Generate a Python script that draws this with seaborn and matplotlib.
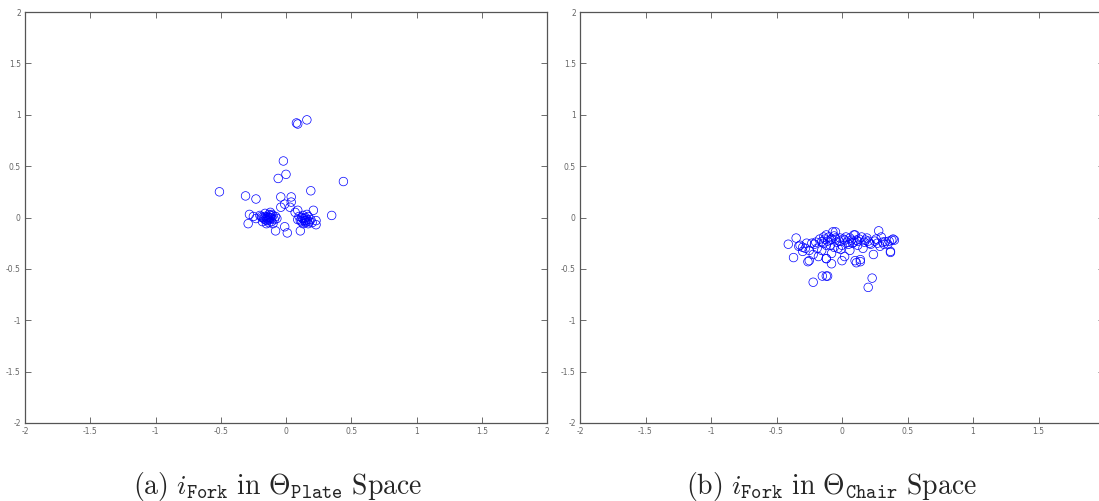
import matplotlib

matplotlib.use("Agg")
import matplotlib.pyplot as plt
import numpy as np
import pandas as pd
import seaborn as sns

# points, (a) fork in plate space
plate_x = [
    0.08, 0.09, 0.16, -0.02, 0.00, -0.06, 0.44, -0.51, 0.19, -0.31, -0.23,
    -0.04, 0.04, -0.04, -0.01, 0.04, 0.03, 0.21, 0.35, -0.28, -0.29,
    -0.08, 0.01, -0.01, 0.11, 0.23, 0.23, 0.07, 0.09, -0.25, -0.23, -0.07,
    -0.18, -0.20,
    # left blob
    -0.14, -0.12, -0.16, -0.13, -0.10, -0.15, -0.11, -0.17, -0.13, -0.09,
    -0.12, -0.16, -0.19, -0.14, -0.11, -0.15, -0.10, -0.08, -0.18, -0.13,
    -0.12, -0.15, -0.14, -0.11, -0.13, -0.16,
    # right blob
    0.14, 0.12, 0.16, 0.13, 0.17, 0.11, 0.15, 0.18, 0.13, 0.10, 0.16, 0.19,
    0.14, 0.12, 0.17, 0.15, 0.20, 0.09, 0.15, 0.13, 0.16,
]
plate_y = [
    0.92, 0.91, 0.95, 0.55, 0.42, 0.38, 0.35, 0.25, 0.26, 0.21, 0.18,
    0.20, 0.20, 0.10, 0.13, 0.15, 0.10, 0.07, 0.02, 0.03, -0.06,
    -0.13, -0.15, -0.09, -0.13, -0.07, -0.03, 0.05, 0.07, 0.01, -0.01, -0.01,
    0.00, 0.02,
    -0.01, 0.00, 0.01, 0.03, 0.02, -0.03, -0.04, -0.01, -0.05, -0.02,
    0.05, 0.04, 0.01, 0.01, -0.01, -0.06, -0.06, 0.01, -0.04, -0.02,
    0.02, 0.00, -0.03, 0.03, 0.00, -0.02,
    -0.01, 0.00, -0.02, 0.02, 0.01, -0.03, -0.05, -0.04, -0.06, 0.01, 0.03,
    -0.02, -0.03, -0.04, -0.06, 0.00, -0.05, -0.02, -0.03, -0.01, -0.04,
]

# (b) fork in chair space
chair_x = [
    -0.15, -0.12, -0.11, -0.22, 0.23, 0.20,
    -0.37, -0.26, -0.25, 0.11, 0.14, -0.08, 0.00, -0.12, 0.24, 0.37,
    -0.41, -0.35, 0.28, -0.05, 0.10, 0.39,
    -0.33, -0.30, -0.27, -0.23, -0.25, -0.19, -0.18, -0.155, -0.14, -0.12,
    -0.22, -0.30, -0.12, -0.07, -0.09, -0.14, -0.04, -0.015, 0.02, 0.09,
    0.11, 0.15, 0.19, 0.21, 0.30, 0.33, 0.38, 0.37, 0.14, 0.10, 0.02,
    -0.03, 0.06, 0.16, 0.29, -0.155, -0.08, -0.12,
    -0.10, -0.08, -0.06, -0.11, -0.13, -0.05, -0.02, 0.01, 0.04, 0.06,
    0.08, 0.12, 0.13, 0.17, 0.18, 0.22, 0.25, 0.27, 0.31, 0.35, 0.36,
    -0.20, -0.17, -0.28, -0.32, -0.21, 0.00, 0.03, 0.05, 0.07, 0.09,
    -0.09, -0.06, 0.26, 0.32, 0.40, -0.01, 0.12, 0.20,
]
chair_y = [
    -0.57, -0.57, -0.57, -0.63, -0.59, -0.68,
    -0.39, -0.43, -0.42, -0.44, -0.43, -0.45, -0.42, -0.40, -0.36, -0.34,
    -0.26, -0.20, -0.13, -0.14, -0.17, -0.21,
    -0.28, -0.29, -0.25, -0.25, -0.32, -0.30, -0.38, -0.235, -0.19, -0.27,
    -0.36, -0.33, -0.17, -0.14, -0.22, -0.25, -0.24, -0.20, -0.22, -0.17,
    -0.22, -0.19, -0.20, -0.25, -0.19, -0.235, -0.22, -0.33, -0.41, -0.42,
    -0.38, -0.30, -0.32, -0.30, -0.28, -0.32, -0.35, -0.40,
    -0.19, -0.21, -0.18, -0.23, -0.21, -0.20, -0.23, -0.21, -0.24, -0.20,
    -0.25, -0.23, -0.21, -0.24, -0.22, -0.26, -0.23, -0.25, -0.24, -0.26,
    -0.23,
    -0.24, -0.21, -0.30, -0.27, -0.26, -0.27, -0.19, -0.26, -0.22, -0.24,
    -0.27, -0.29, -0.21, -0.26, -0.22, -0.31, -0.27, -0.23,
]

captions = [
    r"$\mathrm{(a)}\ i_{\mathtt{Fork}}\ \mathrm{in}\ \Theta_{\mathtt{Plate}}\ \mathrm{Space}$",
    r"$\mathrm{(b)}\ i_{\mathtt{Fork}}\ \mathrm{in}\ \Theta_{\mathtt{Chair}}\ \mathrm{Space}$",
]
ticks = [-2, -1.5, -1, -0.5, 0, 0.5, 1, 1.5, 2]
tick_labels = ["-2", "-1.5", "-1", "-0.5", "0", "0.5", "1", "1.5", "2"]


def main() -> None:
    sns.set_theme(style="white")
    plt.rcParams["font.family"] = ["DejaVu Sans"]
    plt.rcParams["mathtext.fontset"] = "cm"
    plt.rcParams["axes.unicode_minus"] = False

    fig = plt.figure(figsize=(10.99, 5.01), dpi=100)
    boxes = [
        [25 / 1099, 78 / 501, 522 / 1099, 411 / 501],
        [580 / 1099, 78 / 501, 524 / 1099, 411 / 501],
    ]
    panels = [
        pd.DataFrame({"x": plate_x, "y": plate_y}),
        pd.DataFrame({"x": chair_x, "y": chair_y}),
    ]
    caption_x = [278 / 1099, 831 / 1099]
    # the right panel runs past the figure edge, its "2" is not shown
    x_labels = [tick_labels, tick_labels[:-1] + [""]]

    for box, data, cap, cx, xl in zip(boxes, panels, captions, caption_x, x_labels):
        ax = fig.add_axes(box)
        pts = sns.scatterplot(
            data=data,
            x="x",
            y="y",
            marker="o",
            s=38,
            facecolor="none",
            edgecolor="blue",
            linewidth=0.5,
            ax=ax,
        )
        for coll in pts.collections:
            coll.set_facecolor("none")
            coll.set_edgecolor("blue")
        ax.set_xlim(-2, 2)
        ax.set_ylim(-2, 2)
        ax.set_xticks(ticks)
        ax.set_xticklabels(xl)
        ax.set_yticks(ticks)
        ax.set_yticklabels(tick_labels)
        ax.set_xlabel("")
        ax.set_ylabel("")
        ax.tick_params(
            direction="in", length=4, width=0.6, colors="#555555",
            labelcolor="#666666", labelsize=5.5, top=True, right=True,
            bottom=True, left=True, pad=3,
        )
        for sp in ax.spines.values():
            sp.set_color("#555555")
            sp.set_linewidth(0.9)
            sp.set_visible(True)
        fig.text(cx, 7 / 501, cap, ha="center", va="baseline", fontsize=20)

    fig.savefig("out.png", dpi=100)
    plt.close(fig)


if __name__ == "__main__":
    main()
